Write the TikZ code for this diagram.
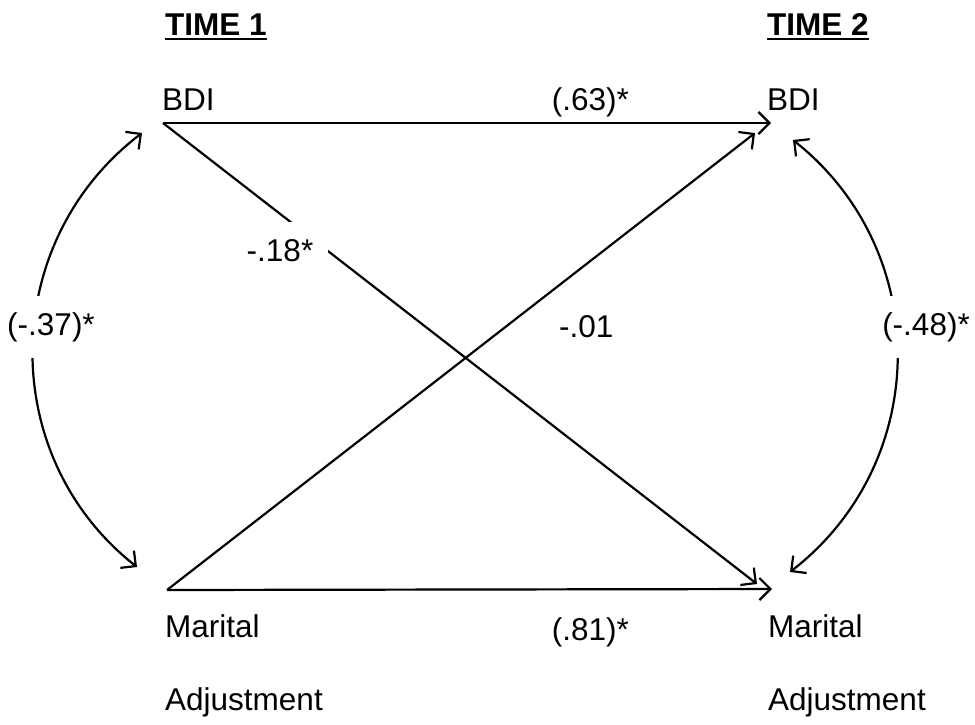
\documentclass[tikz,border=0pt]{standalone}
\usepackage{fontspec}
\setmainfont{Liberation Sans}
\usetikzlibrary{arrows.meta}
\tikzset{
  lbl/.style={inner sep=0pt, font=\fontsize{31.5}{36}\selectfont},
  head/.style={lbl, font=\fontsize{31.5}{36}\selectfont\bfseries},
  gaplbl/.style={lbl, fill=white},
  conn/.style={line width=2.2pt, -{Straight Barb[length=11pt,width=22pt,line width=2.2pt]}},
  corr/.style={line width=2.2pt, {Straight Barb[length=11pt,width=22pt,line width=2.2pt]}-{Straight Barb[length=11pt,width=22pt,line width=2.2pt]}},
}
\begin{document}
\begin{tikzpicture}[x=1pt,y=-1pt]
\useasboundingbox (0,0) rectangle (975,724);
% headings
\node[head, anchor=base west] (t1) at (165,35) {TIME 1};
\node[head, anchor=base west] (t2) at (767,35) {TIME 2};
\draw[line width=2pt] ([yshift=-4pt]t1.base west) -- ([yshift=-4pt]t1.base east);
\draw[line width=2pt] ([yshift=-4pt]t2.base west) -- ([yshift=-4pt]t2.base east);
% variable labels
\node[lbl, anchor=base west] (bdiA) at (162,110) {BDI};
\node[lbl, anchor=base west] (bdiB) at (767,110) {BDI};
\node[lbl, anchor=base west] (marA) at (165,637) {Marital};
\node[lbl, anchor=base west] (adjA) at (165,710) {Adjustment};
\node[lbl, anchor=base west] (marB) at (768,637) {Marital};
\node[lbl, anchor=base west] (adjB) at (768,710) {Adjustment};
% attachment points
\coordinate (pA) at (163,123);
\coordinate (pB) at (771,123);
\coordinate (qA) at (167,590);
\coordinate (qB) at (772,589);
\coordinate (dB1) at (755,133);
\coordinate (dB2) at (757,584);
\coordinate (cA1) at (142,133);
\coordinate (cA2) at (137,567);
\coordinate (cB1) at (793,140);
\coordinate (cB2) at (790,572);
% paths
\draw[conn] (pA) -- (pB);
\draw[conn] (qA) -- (qB);
\draw[conn] (pA) -- (dB2);
\draw[conn] (qA) -- (dB1);
\draw[corr] (cA1) .. controls (-1,242) and (-4,456) .. (cA2);
\draw[corr] (cB1) .. controls (933,251) and (932,462) .. (cB2);
% coefficient labels
\node[lbl, anchor=base east] (l63) at (629,110) {(.63)*};
\node[lbl, anchor=base east] (l81) at (629,640) {(.81)*};
\node[lbl, anchor=base west] (l01) at (559,337) {-.01};
\node[gaplbl, minimum width=96pt, minimum height=58pt] (l18) at (280,251) {-.18*};
\node[gaplbl, minimum height=62pt] (l37) at (51,327) {(-.37)*};
\node[gaplbl, minimum height=62pt] (l48) at (926,327) {(-.48)*};
\end{tikzpicture}
\end{document}
